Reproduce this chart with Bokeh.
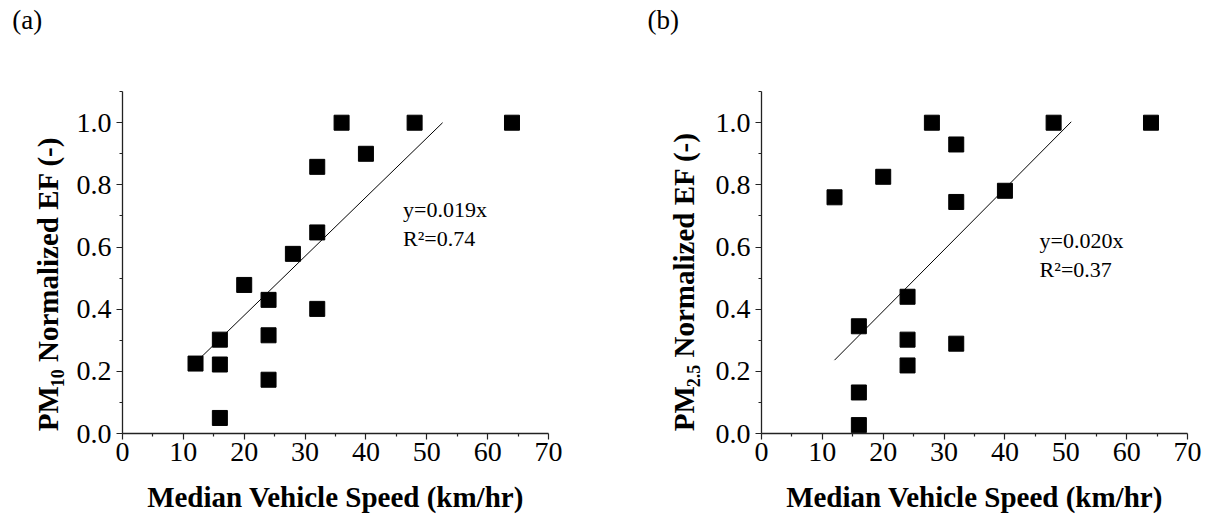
from bokeh.plotting import figure
from bokeh.layouts import row
from bokeh.models import FixedTicker, PrintfTickFormatter, Label, Range1d
from bokeh.core.properties import value
from bokeh.embed import file_html
from bokeh.resources import INLINE

# ---------------- data ----------------
x_ticks = [0, 10, 20, 30, 40, 50, 60, 70]
x_minor = [5, 15, 25, 35, 45, 55, 65]
y_ticks = [0.0, 0.2, 0.4, 0.6, 0.8, 1.0]
y_minor = [0.1, 0.3, 0.5, 0.7, 0.9, 1.1]

pm10_speed = [12, 16, 16, 16, 20, 24, 24, 24, 28, 32, 32, 32, 36, 40, 48, 64]
pm10_ef = [0.225, 0.302, 0.222, 0.050, 0.478, 0.430, 0.316, 0.173, 0.578,
           0.858, 0.647, 0.401, 1.0, 0.900, 1.0, 1.0]
pm10_fit_x = [13.0, 52.6]
pm10_fit_y = [0.247, 1.0]
pm10_eq = ["y=0.019x", "R²=0.74"]

pm25_speed = [12, 16, 16, 16, 20, 24, 24, 24, 28, 32, 32, 32, 40, 48, 64]
pm25_ef = [0.760, 0.345, 0.132, 0.027, 0.826, 0.440, 0.302, 0.219, 1.0,
           0.930, 0.745, 0.289, 0.781, 1.0, 1.0]
pm25_fit_x = [12.0, 50.9]
pm25_fit_y = [0.236, 1.003]
pm25_eq = ["y=0.020x", "R²=0.37"]

panel_tags = ["(a)", "(b)"]
y_label_main = "PM"
y_label_subs = ["10", "2.5"]
y_label_rest = "Normalized EF (-)"
x_label = "Median Vehicle Speed (km/hr)"

FONT = "Liberation Serif"
H = 515
FRAME_BOTTOM = 433.3     # px from top of the x axis (y = 0)
YS = 311.0               # px per y unit
Y_AXIS_TOP = 1.1
BASE_SHIFT = 0.32        # em, correction for alphabetic baseline of text glyphs


def label_strip(width, tag, tag_x, base_x, sub, sub_w):
    """Narrow figure carrying the panel tag and the composed (rotated) y-axis title.
    The row aligns its frame with the panel frame (0..433 px from the top)."""
    f = figure(width=width, height=H, x_range=Range1d(0, width),
               y_range=Range1d(H - FRAME_BOTTOM, H),
               output_backend="svg", toolbar_location=None,
               x_axis_type=None, y_axis_type=None,
               min_border_left=0, min_border_right=0,
               min_border_top=0, min_border_bottom=int(round(H - FRAME_BOTTOM)))
    f.outline_line_color = None
    f.xgrid.visible = False
    f.ygrid.visible = False

    f.text(x=[tag_x], y=[H - 28 + BASE_SHIFT * 27], text=[tag],
           text_font=value(FONT), text_font_size="27px",
           text_color="black", text_baseline="alphabetic", text_align="left")

    start = 431.0  # px from top where "PM" begins (reads upward)
    f.text(x=[base_x - BASE_SHIFT * 29], y=[H - start], text=[y_label_main], angle=1.5708,
           text_font=value(FONT), text_font_style="bold", text_font_size="29px",
           text_color="black", text_baseline="alphabetic", text_align="left")
    sub_start = start - 44.0
    f.text(x=[base_x + 5.6 - BASE_SHIFT * 18], y=[H - sub_start], text=[sub], angle=1.5708,
           text_font=value(FONT), text_font_style="bold", text_font_size="18px",
           text_color="black", text_baseline="alphabetic", text_align="left")
    space_w = 0.25 * 29
    f.text(x=[base_x - BASE_SHIFT * 29], y=[H - (sub_start - sub_w - space_w)],
           text=[y_label_rest], angle=1.5708,
           text_font=value(FONT), text_font_style="bold", text_font_size="29px",
           text_color="black", text_baseline="alphabetic", text_align="left")
    return f


def make_panel(width, xs, ys, fx, fy, eq, left_border, right_border, eq_x, eq_y1, eq_y2):
    p = figure(width=width, height=H, x_range=Range1d(0, 70),
               y_range=Range1d(0, FRAME_BOTTOM / YS),
               output_backend="svg", toolbar_location=None,
               min_border_left=left_border, min_border_right=right_border,
               min_border_top=0, min_border_bottom=int(round(H - FRAME_BOTTOM)))
    p.outline_line_color = None
    p.xgrid.grid_line_color = None
    p.ygrid.grid_line_color = None

    for ax in (p.xaxis[0], p.yaxis[0]):
        ax.axis_line_color = "#222222"
        ax.axis_line_width = 1.3
        ax.major_tick_line_color = "#222222"
        ax.minor_tick_line_color = "#222222"
        ax.major_tick_line_width = 1.2
        ax.minor_tick_line_width = 1.2
        ax.major_tick_out = 6
        ax.major_tick_in = 0
        ax.minor_tick_out = 3
        ax.minor_tick_in = 0
        ax.major_label_text_font = FONT
        ax.major_label_text_font_size = "28px"
        ax.major_label_text_color = "black"

    p.yaxis.bounds = (0, Y_AXIS_TOP)
    p.xaxis.ticker = FixedTicker(ticks=x_ticks, minor_ticks=x_minor)
    p.yaxis.ticker = FixedTicker(ticks=y_ticks, minor_ticks=y_minor)
    p.yaxis.formatter = PrintfTickFormatter(format="%.1f")
    p.xaxis.major_label_standoff = 3
    p.yaxis.major_label_standoff = 5

    p.xaxis.axis_label = x_label
    p.xaxis.axis_label_text_font = FONT
    p.xaxis.axis_label_text_font_style = "bold"
    p.xaxis.axis_label_text_font_size = "29px"
    p.xaxis.axis_label_text_color = "black"
    p.xaxis.axis_label_standoff = 17

    p.line(fx, fy, line_color="black", line_width=1)
    p.scatter(xs, ys, marker="square", size=15, fill_color="black", line_color="black")

    p.add_layout(Label(x=eq_x, y=eq_y1, text=eq[0], text_font=FONT, text_font_size="22px",
                       text_color="black", text_baseline="alphabetic"))
    p.add_layout(Label(x=eq_x, y=eq_y2, text=eq[1], text_font=FONT, text_font_size="22px",
                       text_color="black", text_baseline="alphabetic"))
    return p


s1 = label_strip(72, panel_tags[0], 11.7, 56.7, y_label_subs[0], 18.0)
p1 = make_panel(531, pm10_speed, pm10_ef, pm10_fit_x, pm10_fit_y, pm10_eq, 50, 55,
                46.1, (FRAME_BOTTOM - 209) / YS, (FRAME_BOTTOM - 238) / YS)
s2 = label_strip(102, panel_tags[1], 44, 89.8, y_label_subs[1], 22.5)
p2 = make_panel(501, pm25_speed, pm25_ef, pm25_fit_x, pm25_fit_y, pm25_eq, 56, 19,
                45.7, (FRAME_BOTTOM - 240) / YS, (FRAME_BOTTOM - 269) / YS)

layout = row(s1, p1, s2, p2, spacing=0)
open("out.html", "w").write(file_html(layout, INLINE))
